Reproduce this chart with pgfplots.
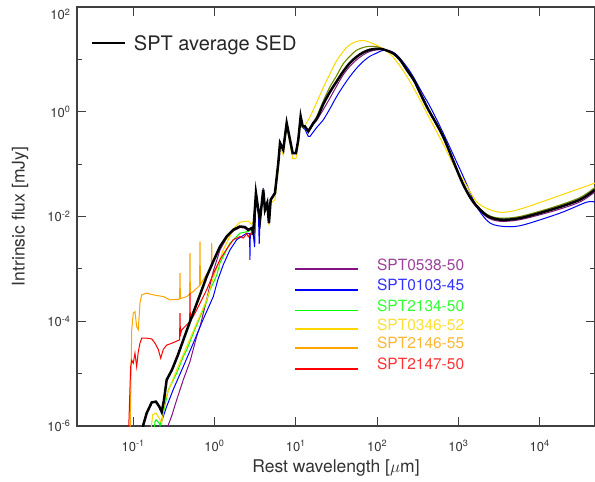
\documentclass[border=0pt]{standalone}
\usepackage{fontspec}
\setmainfont{TeX Gyre Heros}
\usepackage{pgfplots}
\pgfplotsset{compat=1.18}
\definecolor{cpurple}{RGB}{130,20,130}
\definecolor{cblue}{RGB}{0,0,255}
\definecolor{cgreen}{RGB}{0,255,0}
\definecolor{cyellow}{RGB}{255,215,0}
\definecolor{corange}{RGB}{255,165,0}
\definecolor{cred}{RGB}{255,0,0}
\begin{document}
\begin{tikzpicture}
\begin{axis}[
  xmode=log, ymode=log,
  scale only axis, width=518bp, height=419bp,
  xmin=0.02037, xmax=47900, ymin=1e-6, ymax=100,
  axis line style={draw=black!75, line width=1.1bp},
  tick style={draw=black!75, line width=1bp},
  tick align=inside,
  major tick length=9bp, minor tick length=5bp,
  xtick={0.1,1,10,100,1000,10000},
  xticklabels={10\textsuperscript{-1},10\textsuperscript{0},10\textsuperscript{1},10\textsuperscript{2},10\textsuperscript{3},10\textsuperscript{4}},
  xminorticks=false,
  ytick={1e-6,1e-4,1e-2,1,100},
  yticklabels={10\textsuperscript{-6},10\textsuperscript{-4},10\textsuperscript{-2},10\textsuperscript{0},\raisebox{-12.5bp}[0pt][0pt]{10\textsuperscript{2}}},
  minor ytick={1e-5,1e-3,0.1,10},
  ticklabel style={font=\fontsize{13bp}{15bp}\selectfont, text=black!80},
  xticklabel style={yshift=-11bp},
  yticklabel style={xshift=-3bp},
  xlabel={Rest wavelength [$\mu$m]},
  ylabel={Intrinsic flux [mJy]},
  label style={font=\fontsize{17.5bp}{20bp}\selectfont, text=black!80},
  xlabel style={at={(axis description cs:0.5,-0.100)}, anchor=center},
  ylabel style={at={(axis description cs:-0.110,0.5)}, anchor=center},
  clip mode=individual,
]
\coordinate (SW) at (rel axis cs:0,0);
\coordinate (NE) at (rel axis cs:1,1);

% ---------------- purple SPT0538-50
\addplot[cpurple, line width=1bp] coordinates {
(0.266,5e-7) (0.2704,1.05e-6) (0.2976,1.55e-6) (0.3428,3.15e-6) (0.413,7.6e-6) (0.5,1.7e-5) (0.604,5.1e-5) (0.664,7.9e-5) (0.764,1.91e-4) (0.967,9.0e-4) (1.169,2.3e-3) (1.413,3.9e-3) (1.702,5.3e-3) (2.06,6.2e-3) (2.37,6.0e-3) (2.61,5.3e-3) (2.87,5.8e-3) (3.0,4.7e-3) (3.24,0.027) (3.46,0.013) (3.63,8.4e-3) (3.98,0.031) (4.18,0.013) (4.46,0.0175) (4.68,7.3e-3) (4.91,0.020) (5.55,0.027) (6.1,0.10) (6.4,0.245) (7.0,0.183) (7.73,0.59) (8.49,0.285) (9.16,0.158) (10.05,0.158) (10.74,0.283) (11.48,0.79) (12.16,0.51) (12.97,0.51) (14.26,0.41) (16.41,0.57) (18.07,0.68)};
\addplot[cpurple, line width=1bp, smooth] coordinates {
(18.07,0.68) (21.79,1.1) (26.35,1.83) (31.84,3.1) (38.4,5.09) (46.4,7.4) (56.1,9.84) (67.6,12.2) (81.8,14.2) (98.9,15.2) (114,15.4) (134,14.5) (158,12.9) (191,9.9) (231,6.5) (289,3.85) (337,2.35) (427,1.12) (652,0.33) (1100,0.046) (1525,0.018) (2229,0.0098) (3250,0.0081) (5726,0.0087) (15000,0.0128) (31330,0.019) (47900,0.0295)};

% ---------------- blue SPT0103-45
\addplot[cblue, line width=1bp] coordinates {
(0.21,5e-7) (0.2138,1.0e-6) (0.2582,2.35e-6) (0.3114,5.0e-6) (0.413,1.36e-5) (0.548,3.8e-5) (0.728,1.1e-4) (0.967,2.96e-4) (1.1,6.2e-4) (1.283,1.2e-3) (1.551,2.3e-3) (1.875,3.6e-3) (2.49,4.8e-3) (2.70,4.7e-3) (2.73,1.49e-3) (2.76,4.7e-3) (3.0,4.5e-3) (3.12,2.6e-3) (3.24,0.030) (3.46,0.013) (3.55,3.0e-3) (3.63,8.0e-3) (3.98,0.035) (4.18,0.013) (4.46,0.019) (4.68,7.5e-3) (4.91,0.021) (5.55,0.029) (6.1,0.11) (6.4,0.27) (7.0,0.2) (7.73,0.65) (8.49,0.30) (9.16,0.165) (10.05,0.165) (10.74,0.30) (11.48,0.80) (12.16,0.50) (12.97,0.46) (14.26,0.337) (14.95,0.337)};
\addplot[cblue, line width=1bp, smooth] coordinates {
(14.95,0.337) (18.07,0.5) (21.79,0.70) (26.35,1.15) (31.84,1.96) (38.4,3.1) (46.4,4.72) (56.1,6.8) (67.6,9.14) (81.8,11.5) (98.9,13.2) (114,14.6) (134,14.9) (174,12.3) (254,5.89) (370,2.11) (448,1.26) (652,0.39) (1148,0.058) (1679,0.0155) (2448,0.0075) (3926,0.0064) (6281,0.0069) (17780,0.0116) (37870,0.0188) (47900,0.0188)};

% ---------------- green SPT2134-50
\addplot[cgreen, line width=1bp] coordinates {
(0.1767,5e-7) (0.1854,1.2e-6) (0.1906,1.31e-6) (0.2094,1.13e-6) (0.2138,1.0e-6) (0.2345,1.76e-6) (0.2704,4.9e-6) (0.3428,1.02e-5) (0.413,2.12e-5) (0.455,2.84e-5) (0.604,8.5e-5) (0.8017,2.4e-4) (0.881,3.98e-4) (1.064,7.5e-4) (1.169,1.3e-3) (1.551,3.1e-3) (2.06,4.8e-3) (2.606,5.2e-3) (2.87,5.8e-3) (3.0,4.8e-3) (3.24,0.027) (3.46,0.0132) (3.63,8.5e-3) (3.98,0.031) (4.18,0.0132) (4.46,0.0178) (4.68,7.4e-3) (4.91,0.0205) (5.55,0.0275) (6.1,0.103) (6.4,0.25) (7.0,0.186) (7.73,0.60) (8.49,0.29) (9.16,0.161) (10.05,0.161) (10.74,0.29) (11.48,0.80) (12.16,0.52) (12.97,0.52) (14.26,0.42) (16.41,0.61) (18.07,0.80)};
\addplot[cgreen, line width=1bp, smooth] coordinates {
(18.07,0.80) (21.79,1.6) (26.35,3.0) (31.84,4.9) (38.4,8.3) (46.4,11.5) (56.1,15.0) (74.5,17.5) (98.9,17.5) (114,16.0) (134,14.6) (158,13.0) (191,9.9) (231,6.4) (289,3.8) (337,2.3) (427,1.1) (652,0.33) (1100,0.047) (1525,0.0195) (2229,0.011) (3250,0.0093) (5726,0.0100) (15000,0.0152) (31330,0.023) (47900,0.0358)};

% ---------------- yellow SPT0346-52
\addplot[cyellow, line width=1bp] coordinates {
(0.159,5e-7) (0.1738,1.63e-6) (0.1906,1.76e-6) (0.2094,1.41e-6) (0.2244,1.13e-6) (0.246,3.15e-6) (0.2836,5.66e-6) (0.3428,1.18e-5) (0.455,3.3e-5) (0.604,9.2e-5) (0.8017,2.56e-4) (0.9666,6.7e-4) (1.283,2.31e-3) (1.551,4.2e-3) (1.702,5.8e-3) (2.06,7.8e-3) (2.606,8.2e-3) (2.871,7.0e-3) (3.0,8.0e-3) (3.24,0.025) (3.46,0.015) (3.63,9.5e-3) (3.98,0.029) (4.18,0.016) (4.46,0.017) (4.68,0.0068) (4.91,0.018) (5.55,0.021) (6.1,0.08) (6.4,0.21) (7.0,0.15) (7.73,0.52) (8.49,0.24) (9.16,0.128) (10.05,0.128) (10.74,0.25) (11.48,0.75) (12.16,0.50) (12.97,0.55)};
\addplot[cyellow, line width=1bp, smooth] coordinates {
(12.97,0.55) (14.95,0.80) (18.07,1.5) (21.79,2.9) (26.35,5.3) (31.84,9.5) (42.3,17.0) (53.5,21.5) (67.6,23.0) (85.8,20.5) (114,16.5) (158,11.0) (231,4.8) (337,1.7) (408,0.95) (652,0.24) (900,0.088) (1148,0.05) (1679,0.019) (2448,0.0135) (3500,0.012) (5726,0.0138) (15000,0.023) (47900,0.0435)};

% ---------------- orange SPT2146-55
\addplot[corange, line width=1bp] coordinates {
(0.0914,5e-7) (0.0959,6.85e-5) (0.1003,1.43e-4) (0.1052,1.53e-4) (0.1104,7.9e-5) (0.1155,6.85e-5) (0.1213,2.22e-4) (0.1273,3.19e-4) (0.1466,3.44e-4) (0.1767,3.19e-4) (0.2345,2.96e-4) (0.2836,2.56e-4) (0.372,2.64e-4) (0.3767,8.3e-4) (0.381,2.7e-4) (0.455,2.96e-4) (0.495,3.3e-4) (0.5,2.0e-3) (0.505,3.4e-4) (0.548,3.69e-4) (0.655,4.8e-4) (0.6637,3.33e-3) (0.672,5.0e-4) (0.8017,8.0e-4) (0.915,1.1e-3) (0.9245,3.1e-3) (0.934,1.25e-3) (0.9666,1.4e-3) (1.169,2.7e-3) (1.551,4.5e-3) (1.702,5.6e-3) (2.06,6.5e-3) (2.37,6.3e-3) (2.61,5.6e-3) (2.87,6.0e-3) (3.0,4.9e-3) (3.24,0.028) (3.46,0.0134) (3.63,8.65e-3) (3.98,0.0324) (4.18,0.0134) (4.46,0.018) (4.68,7.5e-3) (4.91,0.0208) (5.55,0.028) (6.1,0.105) (6.4,0.252) (7.0,0.188) (7.73,0.608) (8.49,0.292) (9.16,0.163) (10.05,0.163) (10.74,0.292) (11.48,0.81) (12.16,0.524) (12.97,0.524) (14.26,0.42) (16.41,0.608) (18.07,0.73)};
\addplot[corange, line width=1bp, smooth] coordinates {
(18.07,0.73) (19.86,1.0) (21.79,1.4) (26.35,2.4) (31.84,3.8) (38.4,5.9) (46.4,8.6) (56.1,11.2) (67.6,13.6) (81.8,15.3) (98.9,15.9) (114,15.8) (134,14.6) (158,13.0) (191,9.9) (231,6.4) (289,3.8) (337,2.3) (427,1.1) (652,0.33) (1100,0.047) (1525,0.019) (2229,0.0105) (3250,0.0087) (5726,0.0093) (15000,0.014) (31330,0.021) (47900,0.0324)};

% ---------------- red SPT2147-50
\addplot[cred, line width=1bp] coordinates {
(0.0871,5e-7) (0.0931,1.36e-5) (0.0960,1.8e-5) (0.1003,1.58e-5) (0.1052,2.46e-5) (0.1104,1.36e-5) (0.1155,2.6e-5) (0.1213,3.82e-5) (0.1273,4.75e-5) (0.1466,4.75e-5) (0.169,4.6e-5) (0.1854,3.82e-5) (0.2037,2.9e-5) (0.218,1.97e-5) (0.2345,2.9e-5) (0.2582,3.5e-5) (0.2976,3.8e-5) (0.3589,4.3e-5) (0.372,4.4e-5) (0.3767,1.43e-4) (0.381,5.5e-5) (0.3954,6.85e-5) (0.4766,9.2e-5) (0.495,1.0e-4) (0.5,3.44e-4) (0.505,1.05e-4) (0.5483,1.23e-4) (0.664,2.2e-4) (0.802,4.0e-4) (0.967,8.0e-4) (1.169,1.5e-3) (1.413,2.4e-3) (1.703,3.6e-3) (2.06,4.15e-3) (2.26,3.87e-3) (2.49,4.7e-3) (2.606,4.1e-3) (2.87,5.0e-3) (3.0,4.6e-3) (3.24,0.0275) (3.46,0.0133) (3.63,8.6e-3) (3.98,0.032) (4.18,0.0133) (4.46,0.0179) (4.68,7.4e-3) (4.91,0.0206) (5.55,0.0278) (6.1,0.104) (6.4,0.25) (7.0,0.187) (7.73,0.60) (8.49,0.29) (9.16,0.162) (10.05,0.162) (10.74,0.29) (11.48,0.80) (12.16,0.52) (12.97,0.52) (14.26,0.42) (16.41,0.61) (18.07,0.80)};
\addplot[cred, line width=1bp, smooth, draw opacity=0.5] coordinates {
(18.07,0.80) (21.79,1.6) (26.35,3.0) (31.84,4.9) (38.4,8.3) (46.4,11.5) (56.1,15.0) (74.5,17.5) (98.9,17.5) (114,16.0) (134,14.6) (158,13.0) (191,9.9) (231,6.4) (289,3.8) (337,2.3) (427,1.1) (652,0.33) (1100,0.047) (1525,0.0195) (2229,0.011) (3250,0.0093) (5726,0.0100) (15000,0.0152) (31330,0.023) (47900,0.0358)};

% ---------------- black average SED
\addplot[black, line width=2.5bp] coordinates {
(0.131,5e-7) (0.1331,1.05e-6) (0.1466,1.76e-6) (0.169,2.82e-6) (0.1906,2.92e-6) (0.2094,2.35e-6) (0.2244,1.86e-6) (0.2393,3.15e-6) (0.2582,7.6e-6) (0.2999,1.18e-5) (0.3556,2.28e-5) (0.459,6.85e-5) (0.548,1.45e-4) (0.663,3.19e-4) (0.802,7.14e-4) (0.967,1.39e-3) (1.169,2.67e-3) (1.413,4.15e-3) (1.702,5.57e-3) (2.061,6.44e-3) (2.371,6.28e-3) (2.606,5.57e-3) (2.871,6.0e-3) (2.999,4.89e-3) (3.236,0.028) (3.459,0.01343) (3.631,8.65e-3) (3.981,0.0324) (4.178,0.01343) (4.457,0.01803) (4.677,7.48e-3) (4.909,0.02084) (5.546,0.028) (6.095,0.1047) (6.397,0.2523) (7.015,0.188) (7.727,0.608) (8.492,0.2917) (9.16,0.1626) (10.05,0.1626) (10.74,0.2917) (11.48,0.8128) (12.16,0.5236) (12.97,0.5236) (14.26,0.4207) (16.41,0.608) (18.07,0.73)};
\addplot[black, line width=2.5bp, smooth] coordinates {
(18.07,0.73) (19.86,1.0) (21.79,1.4) (26.35,2.4) (31.84,3.8) (38.4,5.9) (46.4,8.6) (56.1,11.2) (67.6,13.6) (81.8,15.3) (98.9,15.9) (114,15.8) (134,14.6) (158,13.0) (191,9.9) (231,6.4) (289,3.8) (337,2.3) (427,1.1) (652,0.33) (1100,0.047) (1525,0.019) (2229,0.0105) (3250,0.0087) (5726,0.0093) (15000,0.014) (31330,0.021) (47900,0.0324)};

% ---------------- legends
\draw[black, line width=1.5bp] (axis description cs:0.0288,0.914) -- (axis description cs:0.0923,0.914);
\node[anchor=base west, inner sep=0pt, font=\fontsize{20bp}{24bp}\selectfont, text=black!85] at (axis description cs:0.1096,0.8957) {SPT average SED};

\draw[cpurple, line width=1.3bp] (axis description cs:0.421,0.3747) -- (axis description cs:0.542,0.3747);
\node[anchor=base west, inner sep=0pt, font=\fontsize{15.5bp}{18bp}\selectfont, text=cpurple!80] at (axis description cs:0.579,0.3723) {SPT0538-50};
\draw[cblue, line width=1.3bp] (axis description cs:0.421,0.3246) -- (axis description cs:0.542,0.3246);
\node[anchor=base west, inner sep=0pt, font=\fontsize{15.5bp}{18bp}\selectfont, text=cblue!80] at (axis description cs:0.579,0.3222) {SPT0103-45};
\draw[cgreen, line width=1.3bp] (axis description cs:0.421,0.2752) -- (axis description cs:0.542,0.2752);
\node[anchor=base west, inner sep=0pt, font=\fontsize{15.5bp}{18bp}\selectfont, text=cgreen!80] at (axis description cs:0.579,0.2728) {SPT2134-50};
\draw[cyellow, line width=1.3bp] (axis description cs:0.421,0.2315) -- (axis description cs:0.542,0.2315);
\node[anchor=base west, inner sep=0pt, font=\fontsize{15.5bp}{18bp}\selectfont, text=cyellow!80] at (axis description cs:0.579,0.2291) {SPT0346-52};
\draw[corange, line width=1.3bp] (axis description cs:0.421,0.1862) -- (axis description cs:0.542,0.1862);
\node[anchor=base west, inner sep=0pt, font=\fontsize{15.5bp}{18bp}\selectfont, text=corange!80] at (axis description cs:0.579,0.1838) {SPT2146-55};
\draw[cred, line width=1.3bp] (axis description cs:0.421,0.1360) -- (axis description cs:0.542,0.1360);
\node[anchor=base west, inner sep=0pt, font=\fontsize{15.5bp}{18bp}\selectfont, text=cred!80] at (axis description cs:0.579,0.1337) {SPT2147-50};
\end{axis}
\pgfresetboundingbox
\path[use as bounding box] ([xshift=-77bp,yshift=-56bp]SW) rectangle ([yshift=7bp]NE);
\end{tikzpicture}
\end{document}
